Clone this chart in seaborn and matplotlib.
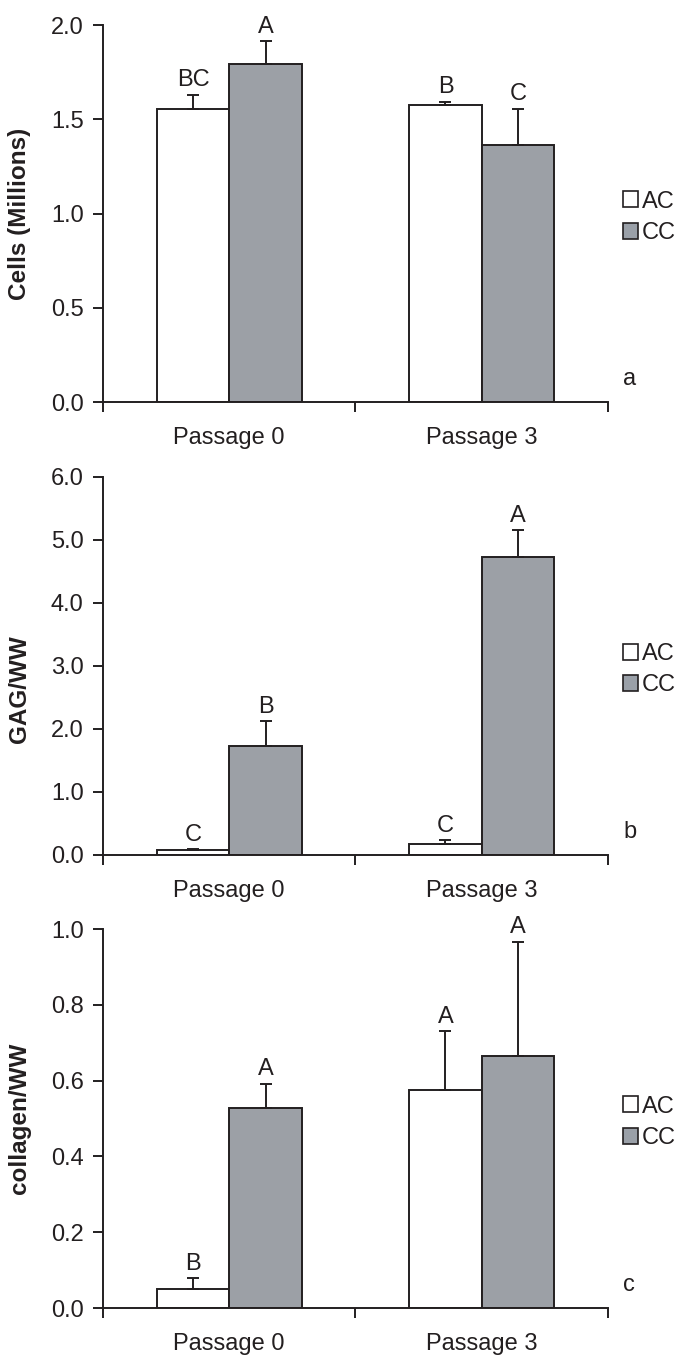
import matplotlib
matplotlib.use("Agg")
import matplotlib.pyplot as plt
import matplotlib.patches as mpatches
import seaborn as sns
import pandas as pd
import numpy as np

# Data
passages = ["Passage 0", "Passage 3"]
groups = ["AC", "CC"]

cells_ac = [1.555, 1.578]
cells_cc = [1.793, 1.364]
cells_ac_err = [0.076, 0.014]
cells_cc_err = [0.122, 0.193]
cells_letters_ac = ["BC", "B"]
cells_letters_cc = ["A", "C"]

gag_ac = [0.079, 0.18]
gag_cc = [1.737, 4.735]
gag_ac_err = [0.012, 0.053]
gag_cc_err = [0.387, 0.424]
gag_letters_ac = ["C", "C"]
gag_letters_cc = ["B", "A"]

coll_ac = [0.049, 0.575]
coll_cc = [0.528, 0.666]
coll_ac_err = [0.029, 0.155]
coll_cc_err = [0.064, 0.301]
coll_letters_ac = ["B", "A"]
coll_letters_cc = ["A", "A"]

sns.set_style("white")
plt.rcParams["font.family"] = ["Liberation Sans", "DejaVu Sans"]

INK = "#231f20"
colors = {"AC": "#ffffff", "CC": "#9aa0a8"}
FS = 17


def panel(ax, ac, cc, ac_err, cc_err, let_ac, let_cc, ymax, step, ylabel, tag, ylab_y=0.5):
    df = pd.DataFrame({
        "passage": passages * 2,
        "group": ["AC"] * 2 + ["CC"] * 2,
        "value": list(ac) + list(cc),
    })
    sns.barplot(data=df, x="passage", y="value", hue="group", order=passages,
                hue_order=groups, palette=colors, width=0.575, errorbar=None,
                edgecolor=INK, linewidth=1.4, ax=ax, legend=False)

    # upper-only error bars and significance letters
    vals = list(ac) + list(cc)
    errs = list(ac_err) + list(cc_err)
    lets = list(let_ac) + list(let_cc)
    bars = [p for p in ax.patches if isinstance(p, mpatches.Rectangle)][:4]
    for bar, v, e, t in zip(bars, vals, errs, lets):
        xc = bar.get_x() + bar.get_width() / 2
        ax.errorbar(xc, v, yerr=[[0], [e]], fmt="none", ecolor=INK,
                    elinewidth=1.4, capsize=4, capthick=1.4)
        ax.annotate(t, (xc, v + e), xytext=(0, 2.5), textcoords="offset points",
                    ha="center", va="bottom", fontsize=FS, color=INK)

    ax.set_xlim(-0.5, 1.5)
    ax.set_ylim(0, ymax)
    ax.set_yticks(np.arange(0, ymax + step / 2, step))
    ax.set_yticklabels([f"{t:.1f}" for t in np.arange(0, ymax + step / 2, step)])
    ax.set_xticks([0, 1])
    ax.set_xticks([-0.5, 0.5, 1.5], minor=True)
    ax.set_xticklabels(passages)
    ax.tick_params(axis="x", which="major", length=0, pad=18, labelsize=FS, colors=INK)
    ax.tick_params(axis="x", which="minor", length=7, width=1.4, direction="out",
                   bottom=True, color=INK)
    ax.tick_params(axis="y", length=7, width=1.4, direction="out", left=True,
                   labelsize=FS, pad=7, colors=INK)
    sns.despine(ax=ax)
    for s in ["left", "bottom"]:
        ax.spines[s].set_color(INK)
        ax.spines[s].set_linewidth(1.4)

    ax.set_xlabel("")
    ax.set_ylabel(ylabel, fontsize=17.5, fontweight="bold", color=INK)
    ax.yaxis.set_label_coords(-0.143, ylab_y)

    handles = [mpatches.Patch(facecolor=colors[g], edgecolor=INK, linewidth=1.2, label=g)
               for g in groups]
    ax.legend(handles=handles, loc="center left", bbox_to_anchor=(1.03, 0.49),
              frameon=False, handlelength=0.65, handleheight=0.65, handletextpad=0.15,
              labelspacing=0.4, borderpad=0, borderaxespad=0, fontsize=FS,
              labelcolor=INK)
    ax.text(1.03, 0.06, tag, transform=ax.transAxes, fontsize=FS, color=INK,
            ha="left", va="center")


fig = plt.figure(figsize=(6.95, 13.71), dpi=100)
ax_a = fig.add_axes([0.1482, 0.70678, 0.7266, 0.27498])
ax_b = fig.add_axes([0.1482, 0.37637, 0.7266, 0.27571])
ax_c = fig.add_axes([0.1482, 0.04595, 0.7266, 0.27644])

panel(ax_a, cells_ac, cells_cc, cells_ac_err, cells_cc_err,
      cells_letters_ac, cells_letters_cc, 2.0, 0.5, "Cells (Millions)", "a")
panel(ax_b, gag_ac, gag_cc, gag_ac_err, gag_cc_err,
      gag_letters_ac, gag_letters_cc, 6.0, 1.0, "GAG/WW", "b", ylab_y=0.44)
panel(ax_c, coll_ac, coll_cc, coll_ac_err, coll_cc_err,
      coll_letters_ac, coll_letters_cc, 1.0, 0.2, "collagen/WW", "c")

fig.savefig("out.png", dpi=100)
